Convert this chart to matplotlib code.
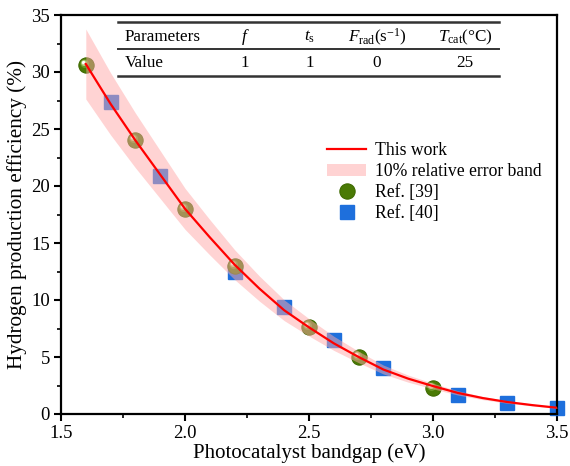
import matplotlib
matplotlib.use("Agg")
import matplotlib.pyplot as plt
import numpy as np
from matplotlib.lines import Line2D
from matplotlib.patches import Patch
from matplotlib.path import Path
from matplotlib.ticker import MultipleLocator

plt.rcParams['font.family'] = ['Liberation Serif', 'DejaVu Serif']
plt.rcParams['mathtext.fontset'] = 'custom'
plt.rcParams['mathtext.rm'] = 'Liberation Serif'
plt.rcParams['mathtext.it'] = 'Liberation Serif:italic'

# This work (model curve)
curve_x = [1.6, 1.7, 1.8, 1.9, 2.0, 2.1, 2.2, 2.3, 2.4, 2.5, 2.6, 2.7, 2.8,
           2.9, 3.0, 3.1, 3.2, 3.3, 3.4, 3.5]
curve_y = [30.7, 27.2, 24.0, 21.0, 18.0, 15.5, 13.1, 11.0, 9.1, 7.6, 6.2, 5.0,
           3.9, 3.1, 2.45, 1.85, 1.4, 1.05, 0.78, 0.55]
rel_err = 0.10

# Ref. [39]
ref39_x = [1.6, 1.8, 2.0, 2.2, 2.5, 2.7, 3.0]
ref39_y = [30.6, 24.0, 18.0, 13.0, 7.6, 5.0, 2.3]

# Ref. [40]
ref40_x = [1.7, 1.9, 2.2, 2.4, 2.6, 2.8, 3.1, 3.3, 3.5]
ref40_y = [27.4, 20.9, 12.5, 9.4, 6.5, 4.0, 1.7, 1.0, 0.5]

# Table
table_header = ['Parameters', r'$f$', r'$t_{\mathrm{s}}$',
                r'$F_{\mathrm{rad}}$(s$^{\mathrm{-1}}$)', r'$T_{\mathrm{cat}}$(°C)']
table_values = ['Value', '1', '1', '0', '25']

W, H = 570, 466
fig = plt.figure(figsize=(W / 100, H / 100), dpi=100)
ax = fig.add_axes([61 / W, 1 - 414 / H, (557 - 61) / W, (414 - 15) / H])

cx = np.array(curve_x)
cy = np.array(curve_y)

blue = '#1E6FDC'
green = '#4A7A05'
band_col = '#FFA8A8'
MS_C = 11


def spot(cxr, cyr, r):
    """Circle marker offset inside a marker of unit diameter; returns (path, size factor)."""
    p = Path.circle((cxr, cyr), r)
    rescale = np.max(np.abs(p.vertices))
    return p, 2 * rescale


def draw_spheres(axis, xs, ys, ms, z=2):
    axis.plot(xs, ys, linestyle='none', marker='o', ms=ms, mfc=green,
              mec='#3E6A00', mew=0.8, zorder=z, clip_on=False)
    for (ox, oy, r, col) in [(-0.12, 0.12, 0.28, '#6E9A2A'),
                             (-0.16, 0.16, 0.19, '#B5D080'),
                             (-0.19, 0.19, 0.11, '#FFFFFF')]:
        p, f = spot(ox, oy, r)
        axis.plot(xs, ys, linestyle='none', marker=p, ms=ms * f, mfc=col,
                  mec='none', zorder=z + 0.01, clip_on=False)


ax.plot(ref40_x, ref40_y, linestyle='none', marker='s', ms=10.5,
        mfc=blue, mec=blue, zorder=2, clip_on=False)
draw_spheres(ax, ref39_x, ref39_y, MS_C)

ax.fill_between(cx, cy * (1 - rel_err), cy * (1 + rel_err), color=band_col,
                alpha=0.5, lw=0, zorder=3)
ax.plot(cx, cy, color='red', lw=1.6, zorder=4)

ax.set_xlim(1.5, 3.5)
ax.set_ylim(0, 35)
ax.xaxis.set_major_locator(MultipleLocator(0.5))
ax.xaxis.set_minor_locator(MultipleLocator(0.25))
ax.yaxis.set_major_locator(MultipleLocator(5))
ax.yaxis.set_minor_locator(MultipleLocator(2.5))
ax.set_xticks(np.arange(1.5, 3.51, 0.5))
ax.set_xticklabels(['1.5', '2.0', '2.5', '3.0', '3.5'])
ax.tick_params(which='major', direction='out', length=5, width=1.5,
               labelsize=13.5, top=False, right=False, pad=3)
ax.tick_params(which='minor', direction='out', length=3, width=1.2,
               top=False, right=False)
for s in ax.spines.values():
    s.set_linewidth(1.6)

ax.set_xlabel('Photocatalyst bandgap (eV)', fontsize=15, labelpad=1)
ax.set_ylabel('Hydrogen production efficiency (%)', fontsize=15.3, labelpad=3)

handles = [
    Line2D([], [], color='red', lw=1.6),
    Patch(facecolor=band_col, alpha=0.5, edgecolor='none'),
    Line2D([], [], linestyle='none', marker='o', ms=MS_C, mfc=green, mec='#3E6A00', mew=0.8),
    Line2D([], [], linestyle='none', marker='s', ms=10, mfc=blue, mec=blue),
]
labels = ['This work', '10% relative error band', 'Ref. [39]', 'Ref. [40]']
leg = ax.legend(handles, labels, loc='upper left', bbox_to_anchor=(315 / W, 1 - 130 / H),
                bbox_transform=fig.transFigure, frameon=False, fontsize=12.7,
                handlelength=2.2, handletextpad=0.5, labelspacing=0.22, borderpad=0.2)

# table
tf = fig.transFigure


def fx(px):
    return px / W


def fy(py):
    return 1 - py / H


x0, x1 = 118, 499
for y, lw in [(22, 1.8), (49, 1.4), (76, 1.8)]:
    fig.add_artist(Line2D([fx(x0), fx(x1)], [fy(y), fy(y)], transform=tf,
                          color='#333333', lw=lw))
col_x = [125, 245, 310, 377, 465]
aligns = ['left', 'center', 'center', 'center', 'center']
for cxp, txt, al in zip(col_x, table_header, aligns):
    fig.text(fx(cxp), fy(37), txt, ha=al, va='center', fontsize=12.3, transform=tf)
for cxp, txt, al in zip(col_x, table_values, aligns):
    fig.text(fx(cxp), fy(63), txt, ha=al, va='center', fontsize=12.3, transform=tf)

fig.savefig('out.png', dpi=100)
